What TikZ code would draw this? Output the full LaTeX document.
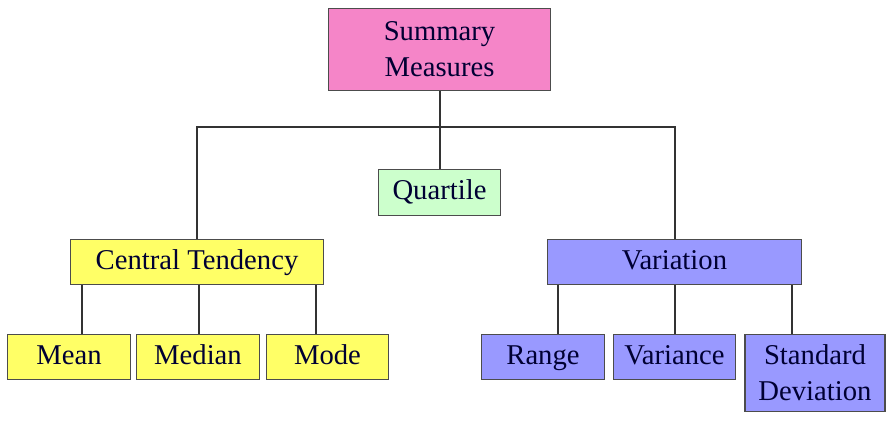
\documentclass[tikz,border=0pt]{standalone}
\usepackage{fontspec}
\setmainfont{Liberation Serif}
\definecolor{sumpink}{HTML}{F585C8}
\definecolor{quagreen}{HTML}{CCFFCC}
\definecolor{ctyellow}{HTML}{FFFF66}
\definecolor{varblue}{HTML}{9999FF}
\begin{document}
\begin{tikzpicture}[x=0.75pt,y=-0.75pt,
	box/.style={draw=black!70,line width=0.8pt,inner sep=0pt,align=center,font=\fontsize{21.5}{27}\selectfont,text=black!80!blue},
	link/.style={draw=black!80,line width=1.5pt}]
	\useasboundingbox (0,0) rectangle (892,422);
	\node [box,fill=sumpink,minimum width=167pt,minimum height=61pt] (sum) at (439.5,49.5) {Summary\\Measures};
	\node [box,fill=quagreen,minimum width=92pt,minimum height=34pt] (qua) at (439.5,192.5) {\strut Quartile};
	\node [box,fill=ctyellow,minimum width=190pt,minimum height=34pt] (ct) at (197,262) {\strut Central Tendency};
	\node [box,fill=varblue,minimum width=190pt,minimum height=34pt] (var) at (674.5,262) {\strut Variation};
	\foreach \N/\T/\X in {mean/Mean/69,med/Median/198,mode/Mode/327.5}
		\node [box,fill=ctyellow,minimum width=92pt,minimum height=34pt] (\N) at (\X,357) {\strut \T};
	\foreach \N/\T/\X in {rng/Range/543,vari/Variance/674.5}
		\node [box,fill=varblue,minimum width=92pt,minimum height=34pt] (\N) at (\X,357) {\strut \T};
	\node [box,fill=varblue,minimum width=105pt,minimum height=58pt] (sd) at (815,373) {Standard\\Deviation};
	\coordinate (bar) at (439.5,127);
	\draw [link] (sum) -- (qua);
	\draw [link] (ct.north) |- (bar) -| (var.north);
	\foreach \S/\C in {-115/mean,2/med,119/mode}
		\draw [link] ([xshift=\S*0.75pt]ct.south) -- ([xshift=\S*0.75pt]ct.south |- \C.north);
	\foreach \S/\C in {-116.5/rng,0/vari,117.5/sd}
		\draw [link] ([xshift=\S*0.75pt]var.south) -- ([xshift=\S*0.75pt]var.south |- \C.north);
\end{tikzpicture}
\end{document}
